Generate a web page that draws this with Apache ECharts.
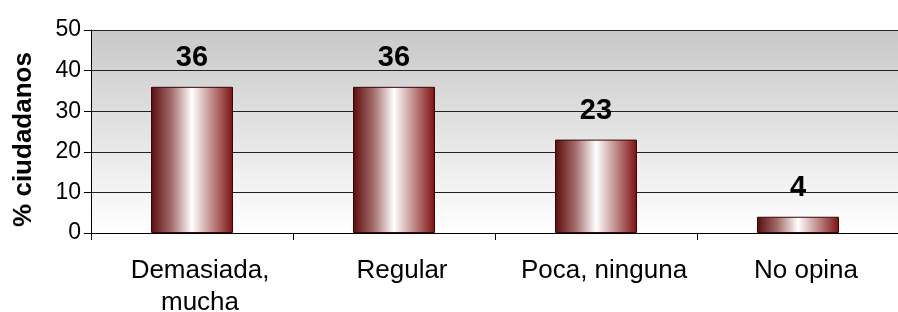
<!DOCTYPE html>
<html>
<head>
<meta charset="utf-8">
<script src="https://cdn.jsdelivr.net/npm/echarts@6/dist/echarts.min.js"></script>
<style>
  html, body { margin: 0; padding: 0; background: #fff; }
  #chart { width: 898px; height: 312px; }
</style>
</head>
<body>
<div id="chart"></div>
<script>
// datos
var categorias = ['Demasiada,\nmucha', 'Regular', 'Poca, ninguna', 'No opina'];
var valores = [36, 36, 23, 4];
var ejeY = { min: 0, max: 50, interval: 10 };

var chart = echarts.init(document.getElementById('chart'));

// degradado horizontal de las barras
var barraColor = new echarts.graphic.LinearGradient(0, 0, 1, 0, [
    { offset: 0, color: '#5a0c0c' },
    { offset: 0.25, color: '#a46c6c' },
    { offset: 0.5, color: '#ffffff' },
    { offset: 0.75, color: '#bf8787' },
    { offset: 1, color: '#7c1010' }
]);

var fuente = 'Liberation Sans, Arial, sans-serif';

var option = {
    animation: false,
    grid: {
        left: 91,
        right: -1,
        top: 30,
        bottom: 79,
        outerBoundsMode: 'none',
        containLabel: false,
        show: true,
        borderWidth: 0,
        backgroundColor: new echarts.graphic.LinearGradient(0, 0, 0, 1, [
            { offset: 0, color: '#c8c8c8' },
            { offset: 1, color: '#ffffff' }
        ])
    },
    xAxis: {
        type: 'category',
        data: categorias,
        axisLine: { lineStyle: { color: '#000', width: 1 } },
        axisTick: { show: true, interval: 0, length: 7, lineStyle: { color: '#000' } },
        axisLabel: {
            interval: 0,
            hideOverlap: false,
            color: '#000',
            fontFamily: fuente,
            fontSize: 26,
            lineHeight: 32,
            margin: 22,
            padding: [0, 0, 0, 16]
        }
    },
    yAxis: {
        type: 'value',
        min: ejeY.min,
        max: ejeY.max,
        interval: ejeY.interval,
        name: '% ciudadanos',
        nameLocation: 'middle',
        nameGap: 54,
        nameRotate: 90,
        nameTextStyle: {
            color: '#000',
            fontFamily: fuente,
            fontWeight: 'bold',
            fontSize: 26,
            padding: [0, 16, 0, 0]
        },
        axisLine: { show: true, lineStyle: { color: '#000', width: 1 } },
        axisTick: { show: true, length: 7, lineStyle: { color: '#000' } },
        axisLabel: {
            color: '#000',
            fontFamily: fuente,
            fontSize: 23,
            margin: 10
        },
        splitLine: { show: true, lineStyle: { color: '#222', width: 1 } }
    },
    series: [{
        type: 'bar',
        data: valores,
        barWidth: 82,
        itemStyle: {
            color: barraColor,
            borderColor: '#3a0505',
            borderWidth: 1
        },
        label: {
            show: true,
            position: 'top',
            distance: 14,
            color: '#000',
            fontFamily: fuente,
            fontWeight: 'bold',
            fontSize: 29
        }
    }]
};

chart.setOption(option);
</script>
</body>
</html>
